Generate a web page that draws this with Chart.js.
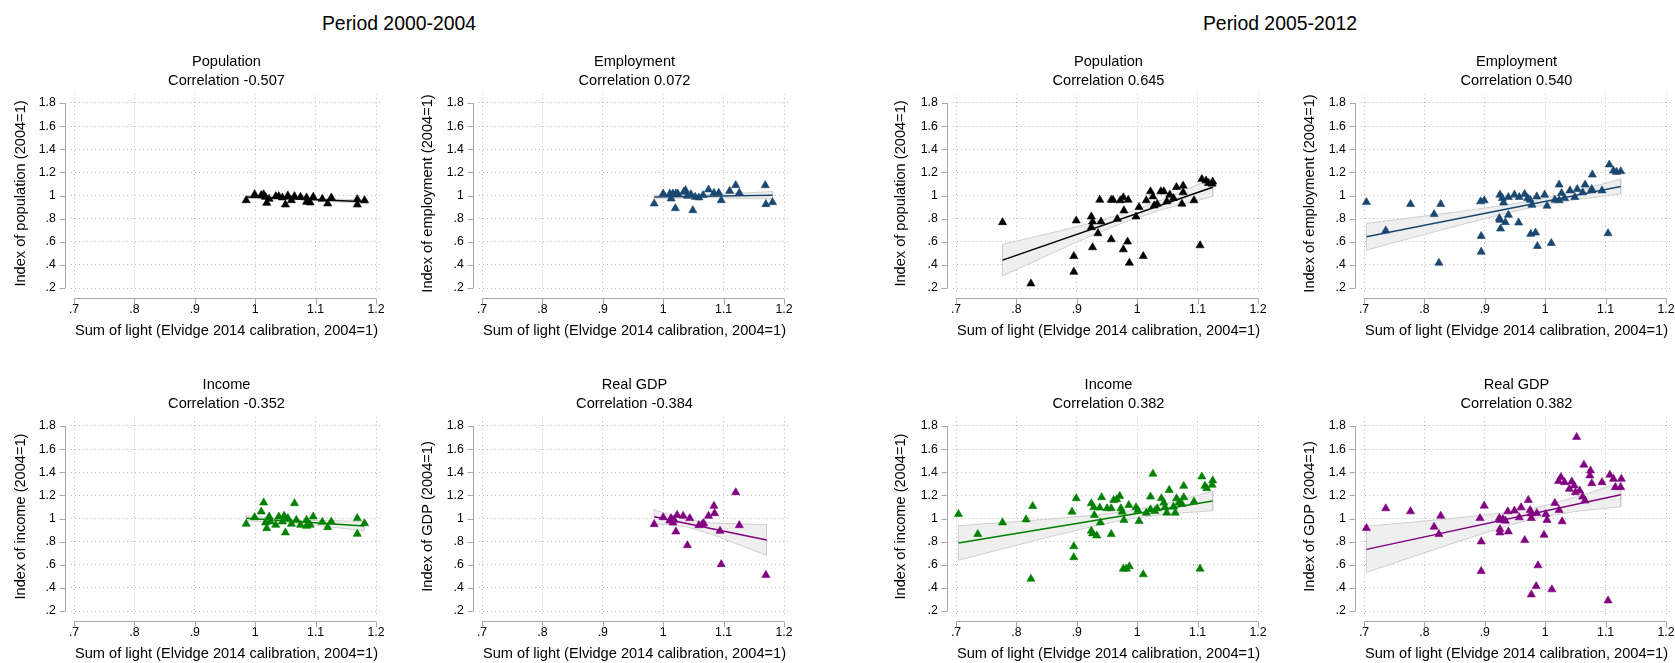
<!DOCTYPE html>
<html>
<head>
<meta charset="utf-8">
<script src="https://cdn.jsdelivr.net/npm/chart.js@4.4.1/dist/chart.umd.min.js"></script>
<style>
html,body{margin:0;padding:0;background:#fff;}
#page{position:relative;width:1675px;height:663px;overflow:hidden;font-family:"Liberation Sans",Arial,sans-serif;}
.period{position:absolute;top:10px;font-size:19.4px;line-height:26px;transform:translateX(-50%);white-space:nowrap;color:#000;}
.panel{position:absolute;}
</style>
</head>
<body>
<div id="page">
  <div class="period" style="left:399px">Period 2000-2004</div>
  <div class="period" style="left:1280px">Period 2005-2012</div>
</div>
<script>
// ------------------------------------------------------------
// axis ticks (Stata style labels)
// ------------------------------------------------------------
const xTicks      = [0.7, 0.8, 0.9, 1, 1.1, 1.2];
const xTickLabels = ['.7', '.8', '.9', '1', '1.1', '1.2'];
const yTicks      = [0.2, 0.4, 0.6, 0.8, 1, 1.2, 1.4, 1.6, 1.8];
const yTickLabels = ['.2', '.4', '.6', '.8', '1', '1.2', '1.4', '1.6', '1.8'];

const xTitle = 'Sum of light (Elvidge 2014 calibration, 2004=1)';

// ------------------------------------------------------------
// Period 2000-2004
// ------------------------------------------------------------
const popA_x = [0.985,0.999,1.010,1.014,1.017,1.019,1.023,1.034,1.039,1.045,1.050,1.054,1.060,1.065,1.075,1.085,1.085,1.091,1.096,1.111,1.120,1.126,1.169,1.169,1.181];
const popA_y = [0.958,1.010,1.002,1.010,0.987,0.935,0.970,0.993,0.993,0.982,0.921,0.999,0.958,0.993,0.987,0.982,0.944,0.938,0.987,0.970,0.930,0.982,0.967,0.921,0.958];
const popA_fitX = [0.985, 1.185];
const popA_fitY = [0.987, 0.947];
const popA_bandX  = [0.985, 1.06, 1.185];
const popA_bandLo = [0.975, 0.966, 0.932];
const popA_bandHi = [0.999, 0.978, 0.962];

const empA_x = [0.985,1.000,1.011,1.013,1.016,1.021,1.020,1.024,1.034,1.037,1.040,1.046,1.049,1.053,1.059,1.066,1.075,1.084,1.092,1.096,1.110,1.120,1.126,1.169,1.170,1.181];
const empA_y = [0.930,1.016,1.016,0.973,1.016,1.016,0.889,1.016,1.031,1.045,0.996,1.010,0.872,0.987,0.982,1.002,1.051,1.022,1.022,0.958,1.039,1.088,1.022,1.088,0.924,0.941];
const empA_fitX = [0.985, 1.181];
const empA_fitY = [0.987, 1.002];
const empA_bandX  = [0.985, 1.06, 1.181];
const empA_bandLo = [0.970, 0.983, 0.970];
const empA_bandHi = [1.004, 1.003, 1.034];

const incA_x = [0.985,0.999,1.010,1.014,1.017,1.019,1.023,1.025,1.034,1.039,1.045,1.048,1.050,1.054,1.060,1.065,1.068,1.075,1.085,1.085,1.091,1.096,1.111,1.120,1.126,1.169,1.169,1.181];
const incA_y = [0.953,1.010,1.059,1.137,0.964,0.915,1.016,0.973,0.944,1.016,0.973,1.022,0.878,1.002,0.953,1.131,0.987,0.944,0.987,0.935,0.944,1.016,0.970,0.924,0.973,1.002,0.866,0.958];
const incA_fitX = [0.985, 1.180];
const incA_fitY = [1.002, 0.935];
const incA_bandX  = [0.985, 1.06, 1.18];
const incA_bandLo = [0.980, 0.964, 0.895];
const incA_bandHi = [1.024, 0.988, 0.975];

const gdpA_x = [0.985,1.000,1.011,1.013,1.016,1.018,1.021,1.023,1.033,1.044,1.040,1.059,1.065,1.067,1.075,1.084,1.085,1.094,1.096,1.120,1.126,1.170];
const gdpA_y = [0.950,1.010,0.982,1.002,0.964,0.987,0.886,1.030,1.022,1.002,0.768,0.941,0.953,0.958,1.022,1.108,1.045,0.892,0.604,1.226,0.941,0.511];
const gdpA_fitX = [0.985, 1.171];
const gdpA_fitY = [1.016, 0.814];
const gdpA_bandX  = [0.985, 1.01, 1.04, 1.08, 1.12, 1.171];
const gdpA_bandLo = [0.954, 0.947, 0.926, 0.863, 0.784, 0.681];
const gdpA_bandHi = [1.078, 1.031, 0.986, 0.963, 0.954, 0.947];

// ------------------------------------------------------------
// Period 2005-2012
// ------------------------------------------------------------
const popB_x = [0.777,0.824,0.899,0.895,0.895,0.924,0.926,0.924,0.935,0.926,0.940,0.938,0.957,0.960,0.957,0.967,0.972,0.977,0.985,0.978,0.977,0.984,0.987,0.998,1.003,1.010,1.015,1.022,1.026,1.028,1.033,1.039,1.044,1.049,1.054,1.060,1.065,1.076,1.076,1.074,1.094,1.104,1.107,1.114,1.118,1.125,1.124];
const popB_y = [0.768,0.238,0.783,0.475,0.339,0.817,0.774,0.725,0.672,0.551,0.774,0.962,0.962,0.962,0.620,0.797,0.957,0.983,0.962,0.870,0.533,0.600,0.417,0.817,0.899,0.475,0.957,1.035,0.991,0.913,0.928,1.035,1.035,0.948,1.006,0.977,1.072,1.084,1.026,0.928,0.957,0.568,1.142,1.128,1.107,1.119,1.101];
const popB_fitX = [0.777, 1.125];
const popB_fitY = [0.441, 1.072];
const popB_bandX  = [0.777, 0.85, 0.92, 0.98, 1.04, 1.09, 1.125];
const popB_bandLo = [0.304, 0.479, 0.644, 0.772, 0.876, 0.944, 0.992];
const popB_bandHi = [0.578, 0.667, 0.756, 0.846, 0.960, 1.072, 1.152];

const empB_x = [0.704,0.736,0.777,0.816,0.827,0.824,0.893,0.899,0.894,0.894,0.925,0.929,0.931,0.924,0.925,0.939,0.934,0.926,0.939,0.949,0.957,0.966,0.956,0.971,0.975,0.978,0.976,0.984,0.986,0.987,0.999,1.003,1.010,1.016,1.023,1.027,1.023,1.032,1.041,1.049,1.053,1.062,1.066,1.077,1.078,1.077,1.094,1.104,1.106,1.113,1.118,1.125];
const empB_y = [0.942,0.696,0.925,0.838,0.925,0.417,0.948,0.957,0.649,0.513,1.006,0.977,0.939,0.803,0.788,0.832,0.768,0.713,0.986,1.006,0.986,1.012,0.765,0.977,0.962,0.919,0.667,0.678,0.991,0.562,1.006,0.910,0.588,0.962,1.093,1.020,0.957,0.977,1.043,0.986,1.055,1.026,1.093,1.055,1.180,1.043,1.043,0.672,1.267,1.214,1.203,1.209];
const empB_fitX = [0.704, 1.125];
const empB_fitY = [0.643, 1.078];
const empB_bandX  = [0.704, 0.78, 0.86, 0.94, 0.99, 1.05, 1.125];
const empB_bandLo = [0.528, 0.635, 0.746, 0.853, 0.910, 0.963, 1.014];
const empB_bandHi = [0.758, 0.809, 0.862, 0.921, 0.966, 1.037, 1.142];

const incB_x = [0.704,0.736,0.777,0.816,0.827,0.824,0.892,0.899,0.895,0.895,0.924,0.928,0.929,0.939,0.924,0.926,0.933,0.938,0.941,0.950,0.957,0.957,0.961,0.966,0.971,0.973,0.975,0.978,0.977,0.982,0.987,0.986,0.998,1.001,1.003,1.010,1.015,1.022,1.022,1.026,1.029,1.033,1.040,1.044,1.046,1.049,1.053,1.060,1.063,1.065,1.069,1.074,1.077,1.077,1.094,1.104,1.107,1.112,1.115,1.125,1.124];
const incB_y = [1.038,0.864,0.965,0.991,1.107,0.478,1.058,1.174,0.759,0.664,1.130,1.096,1.029,0.965,0.893,0.870,0.852,1.093,1.183,1.087,1.087,0.864,1.159,1.165,1.194,1.087,1.058,0.986,0.565,0.565,0.586,1.116,1.096,1.072,0.977,0.516,1.049,1.188,1.078,1.386,1.064,1.087,1.174,1.136,1.096,1.049,1.246,1.101,1.049,1.174,1.136,1.125,1.281,1.183,1.145,0.565,1.362,1.281,1.261,1.328,1.290];
const incB_fitX = [0.704, 1.125];
const incB_fitY = [0.788, 1.151];
const incB_bandX  = [0.704, 0.78, 0.86, 0.94, 0.99, 1.05, 1.125];
const incB_bandLo = [0.639, 0.742, 0.848, 0.948, 1.000, 1.040, 1.067];
const incB_bandHi = [0.937, 0.966, 0.997, 1.034, 1.070, 1.132, 1.235];

const gdpB_x = [0.704,0.736,0.777,0.827,0.816,0.824,0.892,0.899,0.894,0.894,0.924,0.926,0.930,0.934,0.938,0.925,0.925,0.939,0.949,0.957,0.960,0.966,0.972,0.975,0.977,0.977,0.986,0.988,0.985,0.977,0.998,1.001,1.003,1.011,1.016,1.023,1.028,1.022,1.026,1.032,1.040,1.044,1.048,1.050,1.052,1.057,1.062,1.066,1.064,1.075,1.074,1.077,1.094,1.104,1.107,1.113,1.116,1.126,1.125];
const gdpB_y = [0.916,1.087,1.061,1.023,0.928,0.864,1.003,1.110,0.800,0.545,1.003,0.986,0.994,0.980,1.061,0.907,0.878,0.887,1.067,1.009,1.096,0.812,1.159,1.072,1.043,1.003,1.046,0.594,0.414,0.342,0.858,1.038,0.986,0.386,1.133,1.072,0.974,1.322,1.357,1.313,1.255,1.319,1.284,1.226,1.704,1.241,1.188,1.154,1.464,1.414,1.371,1.304,1.313,0.290,1.377,1.342,1.270,1.342,1.270];
const gdpB_fitX = [0.704, 1.125];
const gdpB_fitY = [0.733, 1.206];
const gdpB_bandX  = [0.704, 0.78, 0.86, 0.94, 0.99, 1.05, 1.125];
const gdpB_bandLo = [0.533, 0.668, 0.808, 0.941, 1.008, 1.061, 1.102];
const gdpB_bandHi = [0.933, 0.968, 1.008, 1.055, 1.100, 1.183, 1.310];

// ------------------------------------------------------------
// colours / fonts
// ------------------------------------------------------------
const C_BLACK  = '#000000';
const C_NAVY   = '#1a476f';
const C_GREEN  = '#008000';
const C_PURPLE = '#800080';
const AXIS_COL = '#a8a8a8';
const GRID_COL = '#bcbcbc';
const FONT     = '"Liberation Sans", Arial, sans-serif';

Chart.defaults.font.family = FONT;
Chart.defaults.color = '#000';

// panel geometry: canvas left, plot left, y-title centre, row
const panels = [
  {name:'Population', corr:'Correlation -0.507', ytitle:'Index of population (2004=1)', col:C_BLACK,  L:0,    CL:71,   YT:21,   row:0,
   x:popA_x, y:popA_y, fitX:popA_fitX, fitY:popA_fitY, bX:popA_bandX, bLo:popA_bandLo, bHi:popA_bandHi},
  {name:'Employment', corr:'Correlation 0.072',  ytitle:'Index of employment (2004=1)', col:C_NAVY,   L:400,  CL:479,  YT:428,  row:0,
   x:empA_x, y:empA_y, fitX:empA_fitX, fitY:empA_fitY, bX:empA_bandX, bLo:empA_bandLo, bHi:empA_bandHi},
  {name:'Population', corr:'Correlation 0.645',  ytitle:'Index of population (2004=1)', col:C_BLACK,  L:840,  CL:953,  YT:901,  row:0,
   x:popB_x, y:popB_y, fitX:popB_fitX, fitY:popB_fitY, bX:popB_bandX, bLo:popB_bandLo, bHi:popB_bandHi},
  {name:'Employment', corr:'Correlation 0.540',  ytitle:'Index of employment (2004=1)', col:C_NAVY,   L:1255, CL:1361, YT:1310, row:0,
   x:empB_x, y:empB_y, fitX:empB_fitX, fitY:empB_fitY, bX:empB_bandX, bLo:empB_bandLo, bHi:empB_bandHi},
  {name:'Income',     corr:'Correlation -0.352', ytitle:'Index of income (2004=1)',     col:C_GREEN,  L:0,    CL:71,   YT:21,   row:1,
   x:incA_x, y:incA_y, fitX:incA_fitX, fitY:incA_fitY, bX:incA_bandX, bLo:incA_bandLo, bHi:incA_bandHi},
  {name:'Real GDP',   corr:'Correlation -0.384', ytitle:'Index of GDP (2004=1)',        col:C_PURPLE, L:400,  CL:479,  YT:428,  row:1,
   x:gdpA_x, y:gdpA_y, fitX:gdpA_fitX, fitY:gdpA_fitY, bX:gdpA_bandX, bLo:gdpA_bandLo, bHi:gdpA_bandHi},
  {name:'Income',     corr:'Correlation 0.382',  ytitle:'Index of income (2004=1)',     col:C_GREEN,  L:840,  CL:953,  YT:901,  row:1,
   x:incB_x, y:incB_y, fitX:incB_fitX, fitY:incB_fitY, bX:incB_bandX, bLo:incB_bandLo, bHi:incB_bandHi},
  {name:'Real GDP',   corr:'Correlation 0.382',  ytitle:'Index of GDP (2004=1)',        col:C_PURPLE, L:1255, CL:1361, YT:1310, row:1,
   x:gdpB_x, y:gdpB_y, fitX:gdpB_fitX, fitY:gdpB_fitY, bX:gdpB_bandX, bLo:gdpB_bandLo, bHi:gdpB_bandHi}
];

const ROW_TOP  = [40, 363];
const CANVAS_H = 300;
const PLOT_W   = 311;
const PLOT_BOTTOM = 253;   // chart area bottom inside canvas
const TITLE_FS = 14.6;
const TICK_FS  = 12.3;

// Stata like axes drawn apart from the plot region
const stataAxes = {
  id: 'stataAxes',
  afterDraw(chart){
    const {ctx} = chart, xs = chart.scales.x, ys = chart.scales.y;
    const xa = xs.getPixelForValue(xTicks[0]), xb = xs.getPixelForValue(xTicks[xTicks.length-1]);
    const ya = ys.getPixelForValue(yTicks[0]), yb = ys.getPixelForValue(yTicks[yTicks.length-1]);
    const ax = Math.round(xa - 9.5) + 0.5;
    const ay = Math.round(ya + 10) + 0.5;
    ctx.save();
    ctx.strokeStyle = AXIS_COL; ctx.lineWidth = 1;
    ctx.beginPath();
    ctx.moveTo(ax, ya); ctx.lineTo(ax, yb);
    yTicks.forEach(v=>{ const p = Math.round(ys.getPixelForValue(v)) + 0.5; ctx.moveTo(ax, p); ctx.lineTo(ax-6, p); });
    ctx.moveTo(xa, ay); ctx.lineTo(xb, ay);
    xTicks.forEach(v=>{ const p = Math.round(xs.getPixelForValue(v)) + 0.5; ctx.moveTo(p, ay); ctx.lineTo(p, ay+6); });
    ctx.stroke();
    ctx.restore();
  }
};

const pts = (xs, ys) => xs.map((x,i)=>({x, y:ys[i]}));

function bandPolygon(p){
  const up = pts(p.bX, p.bHi);
  const lo = pts(p.bX, p.bLo).reverse();
  return up.concat(lo, [up[0]]);
}

function makePanel(p){
  const page = document.getElementById('page');
  const plotRight = p.CL + PLOT_W;
  const rightPad  = Math.min(20, 1675 - plotRight);
  const W = plotRight + rightPad - p.L;

  const box = document.createElement('div');
  box.className = 'panel';
  box.style.left = p.L + 'px';
  box.style.top  = ROW_TOP[p.row] + 'px';
  box.style.width = W + 'px';
  box.style.height = CANVAS_H + 'px';
  const cv = document.createElement('canvas');
  cv.width = W; cv.height = CANVAS_H;
  cv.style.width = W + 'px'; cv.style.height = CANVAS_H + 'px';
  box.appendChild(cv);
  page.appendChild(box);

  const yAxisW = p.CL - p.L;
  const yTitlePad = p.YT - p.L - TITLE_FS*1.2/2;

  new Chart(cv.getContext('2d'), {
    type: 'scatter',
    data: {
      datasets: [
        { label:'obs', data: pts(p.x, p.y), pointStyle:'triangle', pointRadius:4.7,
          backgroundColor:p.col, borderColor:p.col, borderWidth:0.6, order:0 },
        { label:'fit', data: pts(p.fitX, p.fitY), showLine:true, pointRadius:0,
          borderColor:p.col, borderWidth:1.5, fill:false, order:1 },
        { label:'ci', data: bandPolygon(p), showLine:true, pointRadius:0, tension:0,
          borderColor:'#cfcfcf', borderWidth:1, backgroundColor:'#efefef', fill:'shape', order:2 }
      ]
    },
    options: {
      responsive:false, animation:false, devicePixelRatio:1, events:[],
      layout: { autoPadding:false, padding:{left:0, right:rightPad, top:0, bottom:0} },
      plugins: {
        legend:{display:false}, tooltip:{enabled:false},
        title:{ display:true, text:p.name, fullSize:false, color:'#000',
          font:{size:TITLE_FS, weight:'normal', lineHeight:1.2}, padding:{top:13.24, bottom:1.48} },
        subtitle:{ display:true, text:p.corr, fullSize:false, color:'#000',
          font:{size:TITLE_FS, weight:'normal', lineHeight:1.2}, padding:{top:0, bottom:4.24} }
      },
      scales: {
        x: {
          type:'linear', min:0.695, max:1.2099, bounds:'data',
          afterBuildTicks: s => { s.ticks = xTicks.map(v=>({value:v})); },
          afterFit: s => { s.height = CANVAS_H - PLOT_BOTTOM; s.paddingLeft = 0; s.paddingRight = 0; },
          grid:{ color:GRID_COL, lineWidth:1, drawTicks:false },
          border:{ display:false, dash:[1,3] },
          ticks:{ autoSkip:false, maxRotation:0, padding:9, color:'#000', font:{size:TICK_FS},
                  callback:(v,i)=>xTickLabels[i] },
          title:{ display:true, text:xTitle, color:'#000', font:{size:TITLE_FS, lineHeight:1.2}, padding:{top:1.24, bottom:0} }
        },
        y: {
          type:'linear', min:0.1568, max:1.8778, bounds:'data',
          afterBuildTicks: s => { s.ticks = yTicks.map(v=>({value:v})); },
          afterFit: s => { s.width = yAxisW; s.paddingTop = 0; s.paddingBottom = 0; },
          grid:{ color:GRID_COL, lineWidth:1, drawTicks:false },
          border:{ display:false, dash:[1,3] },
          ticks:{ autoSkip:false, padding:15.2, color:'#000', font:{size:TICK_FS},
                  callback:(v,i)=>yTickLabels[i] },
          title:{ display:true, text:p.ytitle, color:'#000', font:{size:TITLE_FS, lineHeight:1.2}, padding:{top:yTitlePad, bottom:0} }
        }
      }
    },
    plugins:[stataAxes]
  });
}

panels.forEach(makePanel);
</script>
</body>
</html>
